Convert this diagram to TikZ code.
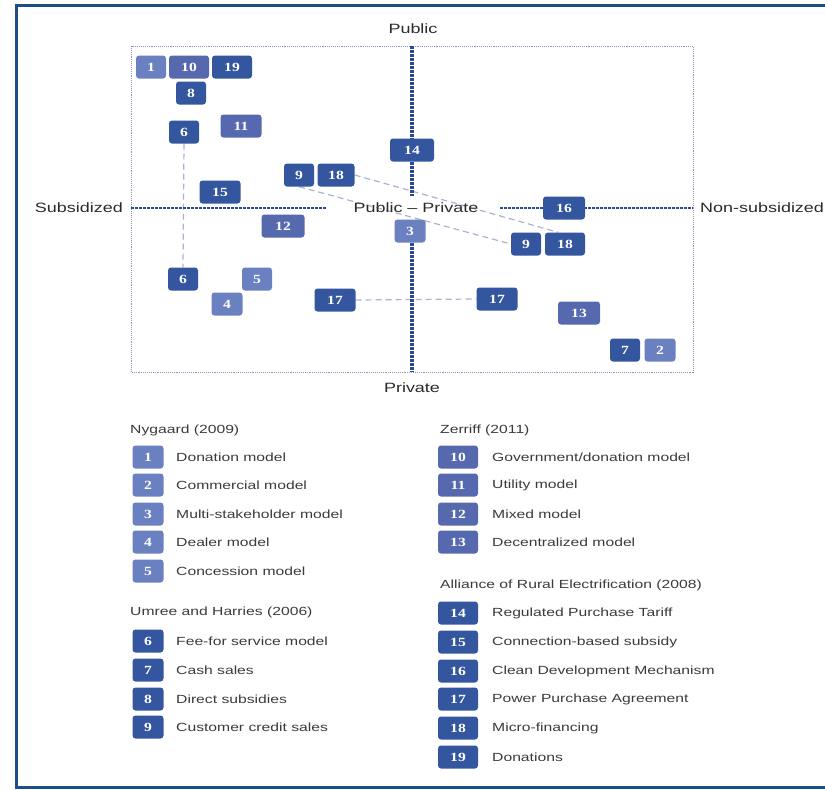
\documentclass[tikz,border=0pt]{standalone}
\usepackage{fontspec}
\setmainfont{Liberation Sans}
\newfontfamily\widefont[FakeStretch=1.33,Ligatures=TeX]{Liberation Sans}
\newfontfamily\numfont[FakeStretch=1.25]{Liberation Serif}
\usetikzlibrary{backgrounds}
\definecolor{framec}{HTML}{1D4F86}
\definecolor{axisc}{HTML}{2C4898}
\definecolor{plotedge}{HTML}{8C96C4}
\definecolor{linkc}{HTML}{A9B2D2}
\definecolor{lightb}{HTML}{6A80C0}
\definecolor{midb}{HTML}{5769AE}
\definecolor{darkb}{HTML}{34569E}
\definecolor{txt}{HTML}{2A2A2A}
\definecolor{legc}{HTML}{3A3A3A}
\begin{document}
\begin{tikzpicture}[x=1pt,y=-1pt,
  numbox/.style={rounded corners=3pt,inner sep=0pt,minimum height=23pt,
    text=white,font=\numfont\bfseries\fontsize{12.5}{12.5}\selectfont},
  one/.style={numbox,minimum width=30pt},
  two/.style={numbox,minimum width=41pt},
  lt/.style={fill=lightb},
  md/.style={fill=midb},
  dk/.style={fill=darkb},
  axislbl/.style={font=\widefont\fontsize{13.5}{15}\selectfont,text=txt},
  legtxt/.style={font=\widefont\fontsize{11.8}{13}\selectfont,text=legc,anchor=west,inner sep=0pt},
  axisline/.style={axisc,line width=3.4pt,dash pattern=on 3pt off 1pt},
  link/.style={linkc,line width=1.2pt,dash pattern=on 6pt off 4pt}]
\useasboundingbox (0,0) rectangle (825,790);
% outer frame
\draw[framec,line width=3pt] (826,5.5) -- (16.5,5.5) -- (16.5,787.5) -- (826,787.5);
% plot area
\draw[plotedge,line width=0.9pt,densely dotted] (131,46) rectangle (693,372);
% axes
\coordinate (vtop) at (412,46);
\coordinate (vmid) at (412,196);
\coordinate (vlow) at (412,243);
\coordinate (vbot) at (412,372);
\coordinate (hleft) at (131,208);
\coordinate (hlmid) at (326,208);
\coordinate (hrmid) at (500,208);
\coordinate (hright) at (693,208);
\draw[axisline] (vtop) -- (vmid);
\draw[axisline] (vlow) -- (vbot);
\draw[axisline,line width=2.8pt] (hleft) -- (hlmid);
\draw[axisline,line width=2.8pt] (hrmid) -- (hright);
% axis labels
\node[axislbl] (lpub) at (413,29) {Public};
\node[axislbl] (lpriv) at (412,388) {Private};
\node[axislbl,anchor=east,inner sep=0pt] (lsub) at (123,208) {Subsidized};
\node[axislbl,anchor=west,inner sep=0pt] (lnon) at (700,208) {Non-subsidized};
\node[axislbl,inner sep=1pt] (lpp) at (416,208) {Public – Private};
% models that appear twice, joined by dashed links
\node[one,dk] (p6a) at (184,132) {6};
\node[one,dk] (p6b) at (183,279) {6};
\node[one,dk] (p9a) at (299,175) {9};
\node[two,dk,minimum width=37pt] (p18a) at (336,175) {18};
\node[one,dk] (p9b) at (526,244) {9};
\node[two,dk,minimum width=40pt] (p18b) at (565,244) {18};
\node[two,dk] (p17a) at (335,300) {17};
\node[two,dk] (p17b) at (497,299) {17};
\begin{scope}[on background layer]
\draw[link] (p6a.south) -- (p6b.north);
\draw[link] (p9a.south) -- (p9b.west);
\draw[link] (p18a.east) -- (p18b.120);
\draw[link] (p17a.east) -- (p17b.west);
\end{scope}
% remaining models in the plane
\node[one,lt] (p1) at (151,67) {1};
\node[two,md,minimum width=40pt] (p10) at (189,67) {10};
\node[two,dk,minimum width=40pt] (p19) at (232,67) {19};
\node[one,dk] (p8) at (191,93) {8};
\node[two,md] (p11) at (241,126) {11};
\node[two,dk,minimum width=44pt] (p14) at (412,150) {14};
\node[two,dk] (p15) at (220,192) {15};
\node[two,md,minimum width=43pt] (p12) at (283,226) {12};
\node[one,lt,minimum width=31pt] (p3) at (410,231) {3};
\node[two,dk,minimum width=42pt] (p16) at (564,208) {16};
\node[one,lt] (p5) at (257,279) {5};
\node[one,lt,minimum width=31pt] (p4) at (227,304) {4};
\node[two,md,minimum width=42pt] (p13) at (579,313) {13};
\node[one,dk] (p7) at (625,350) {7};
\node[one,lt,minimum width=31pt] (p2) at (660,350) {2};
% legend, left column
\node[legtxt] (hny) at (130,430) {Nygaard (2009)};
\foreach \n/\t/\y in {1/{Donation model}/457,2/{Commercial model}/485,3/{Multi-stakeholder model}/514,4/{Dealer model}/542,5/{Concession model}/571}{
  \node[one,lt,minimum width=31pt] (k\n) at (148,\y) {\n};
  \node[legtxt] (t\n) at (176,\y) {\t};
}
\node[legtxt] (hum) at (130,612) {Umree and Harries (2006)};
\foreach \n/\t/\y in {6/{Fee-for service model}/641,7/{Cash sales}/670,8/{Direct subsidies}/699,9/{Customer credit sales}/727}{
  \node[one,dk,minimum width=31pt] (k\n) at (148,\y) {\n};
  \node[legtxt] (t\n) at (176,\y) {\t};
}
% legend, right column
\node[legtxt] (hze) at (440,430) {Zerriff (2011)};
\foreach \n/\t/\y in {10/{Government/donation model}/457,11/{Utility model}/485,12/{Mixed model}/514,13/{Decentralized model}/542}{
  \node[two,md,minimum width=40pt] (k\n) at (458,\y) {\n};
  \node[legtxt] (t\n) at (492,\y) {\t};
}
\node[legtxt] (hal) at (440,585) {Alliance of Rural Electrification (2008)};
\foreach \n/\t/\y in {14/{Regulated Purchase Tariff}/613,15/{Connection-based subsidy}/642,16/{Clean Development Mechanism}/671,17/{Power Purchase Agreement}/699,18/{Micro-financing}/728,19/{Donations}/757}{
  \node[two,dk,minimum width=40pt] (k\n) at (458,\y) {\n};
  \node[legtxt] (t\n) at (492,\y) {\t};
}
\end{tikzpicture}
\end{document}
